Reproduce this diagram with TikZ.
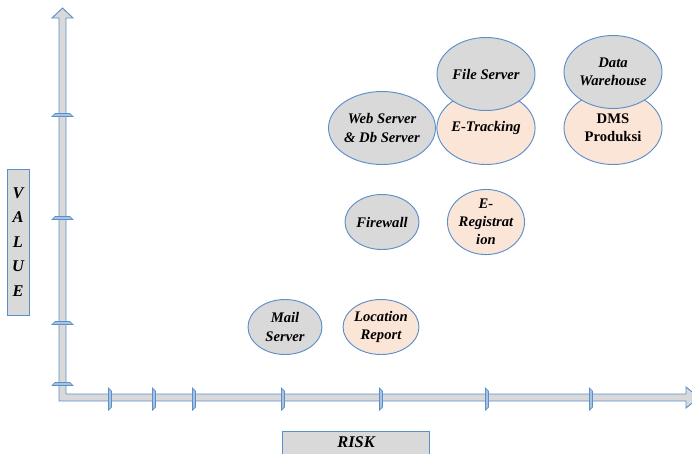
\documentclass[tikz,border=0pt]{standalone}
\usepackage{fontspec}
\setmainfont{Liberation Serif}
\usepackage{tikz}
\usetikzlibrary{shapes.geometric}

\definecolor{edgeblue}{HTML}{5B8FCB}
\definecolor{cellgray}{HTML}{D9D9D9}
\definecolor{peach}{HTML}{FBE5D6}
\definecolor{tickblue}{HTML}{A9C2DF}

\tikzset{
  app/.style={ellipse, draw=edgeblue, line width=0.8pt, inner sep=0pt, align=center,
    font=\fontsize{12.5}{15.5}\selectfont\bfseries\itshape},
  smallapp/.style={app, minimum width=22.2mm, minimum height=16.5mm},
  bigapp/.style={app, minimum width=29.4mm, minimum height=21.9mm},
  grayfill/.style={fill=cellgray},
  peachfill/.style={fill=peach},
  axislabel/.style={draw=edgeblue, fill=cellgray, line width=0.8pt},
  tickmark/.style={draw=edgeblue, fill=tickblue, line width=0.6pt}
}

\begin{document}
\begin{tikzpicture}[x=0.3mm,y=-0.3mm]
\useasboundingbox (0,0) rectangle (692,453);

% axes
\filldraw[axislabel]
  (59,401) -- (59,18) -- (52,18) -- (62.5,8) -- (73,18) -- (66,18) -- (66,394)
  -- (686,394) -- (686,387) -- (699,397.5) -- (686,408) -- (686,401) -- cycle;

\foreach \y in {115,218,323,384}
  \filldraw[tickmark] (52,\y+1.5) -- (55,\y-1.5) -- (70,\y-1.5) -- (73,\y+1.5) -- cycle;
\foreach \x in {110,154,194,283,381,487,591}
  \filldraw[tickmark] (\x-1.5,388) -- (\x+1.5,391) -- (\x+1.5,407) -- (\x-1.5,410) -- cycle;

% axis labels
\filldraw[axislabel] (7,169) rectangle (29,315);
\node[align=center, font=\fontsize{14}{21}\selectfont\bfseries\itshape] (value) at (18,242) {V\\A\\L\\U\\E};
\filldraw[axislabel] (282,431) rectangle (429,462);
\node[font=\fontsize{14}{16}\selectfont\bfseries\itshape] (risk) at (356,442) {RISK};

% applications
\node[smallapp, grayfill] (mail) at (285,327) {Mail\\Server};
\node[smallapp, peachfill] (location) at (381,327) {Location\\Report};
\node[smallapp, grayfill] (firewall) at (382,222) {Firewall};
\node[smallapp, peachfill] (ereg) at (486,222) {E-\\Registrat\\ion};
\node[bigapp, grayfill] (web) at (382,128) {Web Server\\\& Db Server};
\node[bigapp, peachfill] (etrack) at (486,128) {E-Tracking};
\node[bigapp, grayfill] (file) at (486,74) {File Server};
\node[bigapp, peachfill, font=\fontsize{12.5}{15.5}\selectfont\bfseries] (dms) at (613,128) {DMS\\Produksi};
\node[bigapp, grayfill] (dwh) at (613,72) {Data\\Warehouse};

\end{tikzpicture}
\end{document}
